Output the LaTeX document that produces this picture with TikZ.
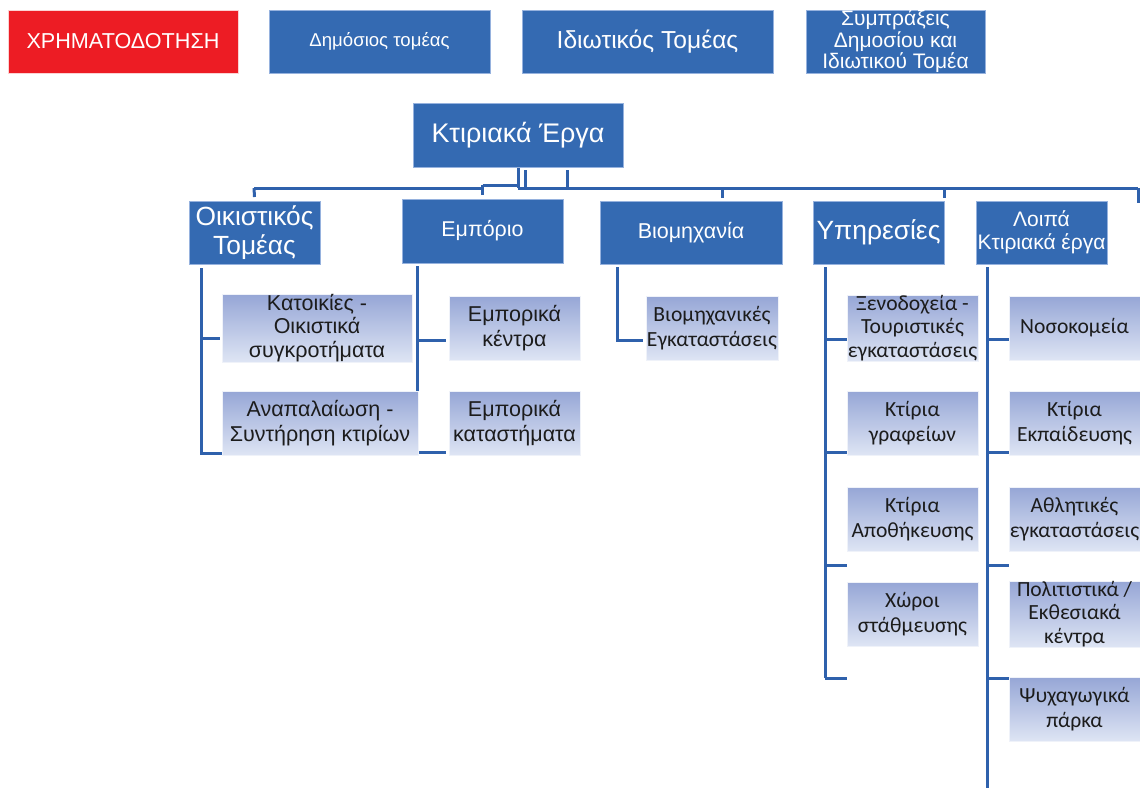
\documentclass[tikz,border=0pt]{standalone}
\usepackage{fontspec}
\setmainfont{Liberation Sans}
\newfontfamily\calib{Carlito}
\usetikzlibrary{backgrounds}
\definecolor{boxblue}{RGB}{52,106,178}
\definecolor{boxedge}{RGB}{150,178,222}
\definecolor{linkblue}{RGB}{47,97,172}
\definecolor{redbox}{RGB}{237,28,36}
\definecolor{gtop}{RGB}{150,166,214}
\definecolor{gbot}{RGB}{222,229,244}
\definecolor{gtext}{RGB}{28,28,28}
\tikzset{
  basebox/.style={rectangle, inner sep=0pt, align=center},
  bbox/.style={basebox, draw=boxedge, line width=0.6pt, fill=boxblue, text=white},
  rbox/.style={basebox, draw=white!80!redbox, line width=0.6pt, fill=redbox, text=white},
  gbox/.style={basebox, draw=white!85!gtop, line width=0.6pt, top color=gtop, bottom color=gbot, text=gtext},
  sz/.style 2 args={minimum width=#1pt, minimum height=#2pt},
  fs/.style 2 args={font=\fontsize{#1}{#2}\selectfont},
  cfs/.style 2 args={font=\fontsize{#1}{#2}\selectfont\calib},
  link/.style={draw=linkblue, line width=3pt},
}
\begin{document}
\begin{tikzpicture}[x=1pt,y=-1pt]
\useasboundingbox (0,0) rectangle (1140,788);

% top row
\node[rbox, sz={230}{63}, fs={21.6}{24}] (fund) at (123,41.5) {ΧΡΗΜΑΤΟΔΟΤΗΣΗ};
\node[bbox, sz={221}{63}, fs={18.6}{21}] (pub) at (379.5,41.5) {Δημόσιος τομέας};
\node[bbox, sz={251}{63}, fs={24.6}{27}] (priv) at (647.5,41.5) {Ιδιωτικός Τομέας};
\node[bbox, sz={179}{63}, fs={21}{21.5}] (ppp) at (895.5,41.5) {Συμπράξεις\\Δημοσίου και\\Ιδιωτικού Τομέα};

% root
\node[bbox, sz={210}{64}, fs={26.9}{30}] (root) at (518,135) {Κτιριακά Έργα};

% level 2
\node[bbox, sz={131}{63}, fs={26.3}{29}] (res) at (254.5,232.5) {Οικιστικός\\Τομέας};
\node[bbox, sz={161}{64}, fs={21.4}{24}] (com) at (482.5,231) {Εμπόριο};
\node[bbox, sz={182}{63}, fs={21.5}{24}] (ind) at (691,232.5) {Βιομηχανία};
\node[bbox, sz={131}{63}, fs={26.4}{29}] (serv) at (878.5,232.5) {Υπηρεσίες};
\node[bbox, sz={131}{63}, fs={21}{23}] (oth) at (1041.5,232.5) {Λοιπά\\Κτιριακά έργα};

% level 3
\node[gbox, sz={190}{64}, fs={21.5}{23.5}] (h1) at (317,328) {Κατοικίες -\\Οικιστικά\\συγκροτήματα};
\node[gbox, sz={196}{64}, fs={21.5}{25}] (h2) at (320,423) {Αναπαλαίωση -\\Συντήρηση κτιρίων};
\node[gbox, sz={131}{64}, fs={21.5}{25}] (m1) at (514.5,328) {Εμπορικά\\κέντρα};
\node[gbox, sz={131}{64}, fs={21.5}{25}] (m2) at (514.5,423) {Εμπορικά\\καταστήματα};
\node[gbox, sz={132}{64}, cfs={21.6}{25}] (i1) at (712,328) {Βιομηχανικές\\Εγκαταστάσεις};
\node[gbox, sz={131}{64}, cfs={21.6}{23.5}] (s1) at (912.5,328) {Ξενοδοχεία -\\Τουριστικές\\εγκαταστάσεις};
\node[gbox, sz={131}{64}, cfs={21.6}{25}] (s2) at (912.5,423) {Κτίρια\\γραφείων};
\node[gbox, sz={131}{64}, cfs={21.6}{25}] (s3) at (912.5,519) {Κτίρια\\Αποθήκευσης};
\node[gbox, sz={131}{64}, cfs={21.6}{25}] (s4) at (912.5,614) {Χώροι\\στάθμευσης};
\node[gbox, sz={131}{64}, cfs={21.6}{25}] (o1) at (1074.5,328) {Νοσοκομεία};
\node[gbox, sz={131}{64}, cfs={21.6}{25}] (o2) at (1074.5,423) {Κτίρια\\Εκπαίδευσης};
\node[gbox, sz={131}{64}, cfs={21.6}{25}] (o3) at (1074.5,519) {Αθλητικές\\εγκαταστάσεις};
\node[gbox, sz={131}{64}, cfs={21.6}{23.5}] (o4) at (1074.5,614) {Πολιτιστικά /\\Εκθεσιακά\\κέντρα};
\node[gbox, sz={131}{64}, cfs={21.6}{25}] (o5) at (1074.5,709) {Ψυχαγωγικά\\πάρκα};

% connector points
\coordinate (busL) at (254,188);
\coordinate (busM) at (518,188);
\coordinate (busR) at (1138,188);
\coordinate (endR) at (1138,203);
\coordinate (c1) at (201,268);
\coordinate (c2) at (417,266);
\coordinate (c3) at (617,267);
\coordinate (c4) at (825,267);
\coordinate (c5) at (987,267);
\coordinate (c5end) at (987,788);

\begin{scope}[on background layer]
  % from root to bus
  \draw[link] (root.south) -- (busM);
  \draw[link] (root.south -| 525,0) ++(0,3) -- (525,188);
  \draw[link] (root.south -| 567,0) ++(0,3) -- (567,188);
  \draw[link] (com.north |- 0,185) -- (busM |- 0,185);
  \draw[link] (busL) -- (com.north |- busL);
  \draw[link] (busM) -- (busR);
  % drops
  \draw[link] (busL) -- (res.north |- 0,197);
  \draw[link] (com.north |- 0,185) -- (com.north |- 0,195);
  \draw[link] (722,188) -- (722,198);
  \draw[link] (serv.north east |- busL) -- (serv.north east |- 0,198);
  \draw[link] (busR) -- (endR);
  % column 1
  \draw[link] (c1) -- (c1 |- 0,453) -- (h1.west |- 0,453);
  \draw[link] (c1 |- 0,338) -- ([xshift=-2pt]h1.west |- 0,338);
  % column 2
  \draw[link] (c2) -- (c2 |- 0,452) -- ([xshift=-3pt]m2.west |- 0,452);
  \draw[link] (c2 |- 0,340) -- ([xshift=-3pt]m1.west |- 0,340);
  % column 3
  \draw[link] (c3) -- (c3 |- 0,340) -- ([xshift=-3pt]i1.west |- 0,340);
  % column 4
  \draw[link] (c4) -- (c4 |- 0,678);
  \foreach \yy in {339,452,565,678}
    \draw[link] (c4 |- 0,\yy) -- (s1.west |- 0,\yy);
  % column 5
  \draw[link] (c5) -- (c5end);
  \foreach \yy in {339,452,565,678}
    \draw[link] (c5 |- 0,\yy) -- (o1.west |- 0,\yy);
\end{scope}
\end{tikzpicture}
\end{document}
